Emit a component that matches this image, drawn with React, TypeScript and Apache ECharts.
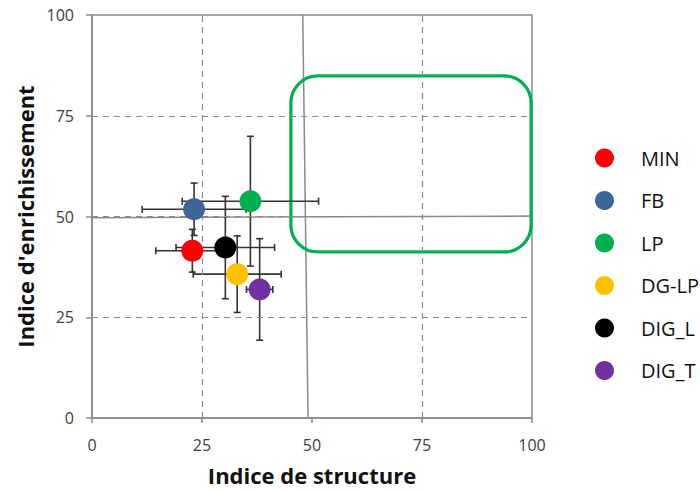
import React, { useEffect, useRef } from "react";
import * as echarts from "echarts";

const groups = ["MIN", "FB", "LP", "DG-LP", "DIG_L", "DIG_T"];
const structureIndex = [22.8, 23.2, 36.0, 33.0, 30.3, 38.1];
const enrichmentIndex = [41.5, 51.8, 53.8, 35.7, 42.3, 31.9];
const structureError = [8.3, 11.8, 15.5, 10.0, 11.2, 3.0];
const enrichmentError = [5.3, 6.5, 16.1, 9.5, 12.7, 12.6];
const groupColors = ["#FF0000", "#3D6596", "#00B050", "#FFC000", "#000000", "#7030A0"];

// Dashed guide levels
const xGuideLevels = [25, 75];
const yGuideLevels = [25, 50, 75];

// Solid reference lines (data coordinates) and highlighted zone
const verticalRefLine = [[47.9, 100], [49.1, 0]];
const horizontalRefLine = [[0, 49.7], [100, 50.1]];
const zoneX = [45.2, 99.8];
const zoneY = [41.2, 84.9];

const FONT = "'Open Sans', 'Liberation Sans', sans-serif";
const GRAY = "#8a8a8a";

export default function App() {
  const ref = useRef<HTMLDivElement>(null);
  useEffect(() => {
    if (!ref.current) return;
    const chart = echarts.init(ref.current, null, { renderer: "svg" });

    const errorData = groups.map((g, i) => [
      structureIndex[i],
      enrichmentIndex[i],
      structureError[i],
      enrichmentError[i],
    ]);

    const scatterSeries = groups.map((g, i) => ({
      name: g,
      type: "scatter",
      symbol: "circle",
      symbolSize: 22,
      z: 5,
      itemStyle: { color: groupColors[i], opacity: 1 },
      data: [[structureIndex[i], enrichmentIndex[i]]],
    }));

    const guideLines = [
      ...xGuideLevels.map((v) => ({ xAxis: v })),
      ...yGuideLevels.map((v) => ({ yAxis: v })),
    ];

    const option: any = {
      animation: false,
      backgroundColor: "#ffffff",
      grid: {
        left: 92,
        right: 168,
        top: 15,
        bottom: 72,
        containLabel: false,
        outerBoundsMode: "none",
        show: true,
        borderColor: GRAY,
        borderWidth: 1.5,
      },
      legend: {
        orient: "vertical",
        left: 590,
        top: 143,
        icon: "circle",
        itemWidth: 19,
        itemHeight: 19,
        itemGap: 22.5,
        data: groups,
        textStyle: {
          fontFamily: FONT,
          fontSize: 20,
          color: "#111",
          padding: [0, 0, 0, 22],
        },
      },
      xAxis: {
        type: "value",
        min: 0,
        max: 100,
        interval: 25,
        name: "Indice de structure",
        nameLocation: "middle",
        nameGap: 46,
        nameTextStyle: { fontFamily: FONT, fontSize: 22, fontWeight: "bold", color: "#111" },
        axisLine: { show: true, lineStyle: { color: GRAY, width: 1.5 } },
        axisTick: { show: true, length: 5, lineStyle: { color: GRAY, width: 1.5 } },
        axisLabel: { fontFamily: FONT, fontSize: 16, color: "#404040", margin: 19 },
        splitLine: { show: false },
      },
      yAxis: {
        type: "value",
        min: 0,
        max: 100,
        interval: 25,
        name: "Indice d'enrichissement",
        nameLocation: "middle",
        nameGap: 52,
        nameTextStyle: { fontFamily: FONT, fontSize: 22, fontWeight: "bold", color: "#111" },
        axisLine: { show: true, lineStyle: { color: GRAY, width: 1.5 } },
        axisTick: { show: true, length: 6, lineStyle: { color: GRAY, width: 1.5 } },
        axisLabel: { fontFamily: FONT, fontSize: 16, color: "#404040", margin: 18 },
        splitLine: { show: false },
      },
      series: [
        {
          type: "line",
          data: verticalRefLine,
          symbol: "none",
          silent: true,
          z: 2,
          lineStyle: { color: GRAY, width: 1.5 },
          markLine: {
            silent: true,
            symbol: "none",
            label: { show: false },
            lineStyle: { color: GRAY, type: [6, 5], width: 1.2 },
            data: guideLines,
          },
        },
        {
          type: "line",
          data: horizontalRefLine,
          symbol: "none",
          silent: true,
          z: 2,
          lineStyle: { color: GRAY, width: 1.5 },
        },
        {
          type: "custom",
          silent: true,
          z: 3,
          data: [[zoneX[0], zoneY[0], zoneX[1], zoneY[1]]],
          renderItem: (params: any, api: any) => {
            const p0 = api.coord([api.value(0), api.value(3)]);
            const p1 = api.coord([api.value(2), api.value(1)]);
            return {
              type: "rect",
              shape: { x: p0[0], y: p0[1], width: p1[0] - p0[0], height: p1[1] - p0[1], r: 27 },
              style: { fill: "none", stroke: "#00B050", lineWidth: 3.2 },
            };
          },
        },
        {
          type: "custom",
          silent: true,
          z: 4,
          data: errorData,
          renderItem: (params: any, api: any) => {
            const x = api.value(0);
            const y = api.value(1);
            const ex = api.value(2);
            const ey = api.value(3);
            const l = api.coord([x - ex, y]);
            const r = api.coord([x + ex, y]);
            const t = api.coord([x, y + ey]);
            const b = api.coord([x, y - ey]);
            const c = 3.5;
            const style = { stroke: "#333", lineWidth: 1.6 };
            return {
              type: "group",
              children: [
                { type: "line", shape: { x1: l[0], y1: l[1], x2: r[0], y2: r[1] }, style },
                { type: "line", shape: { x1: l[0], y1: l[1] - c, x2: l[0], y2: l[1] + c }, style },
                { type: "line", shape: { x1: r[0], y1: r[1] - c, x2: r[0], y2: r[1] + c }, style },
                { type: "line", shape: { x1: t[0], y1: t[1], x2: b[0], y2: b[1] }, style },
                { type: "line", shape: { x1: t[0] - c, y1: t[1], x2: t[0] + c, y2: t[1] }, style },
                { type: "line", shape: { x1: b[0] - c, y1: b[1], x2: b[0] + c, y2: b[1] }, style },
              ],
            };
          },
        },
        ...scatterSeries,
      ],
    };
    chart.setOption(option);
    return () => chart.dispose();
  }, []);
  return <div ref={ref} style={{ width: 700, height: 490, position: "absolute", left: 0, top: 0 }} />;
}
